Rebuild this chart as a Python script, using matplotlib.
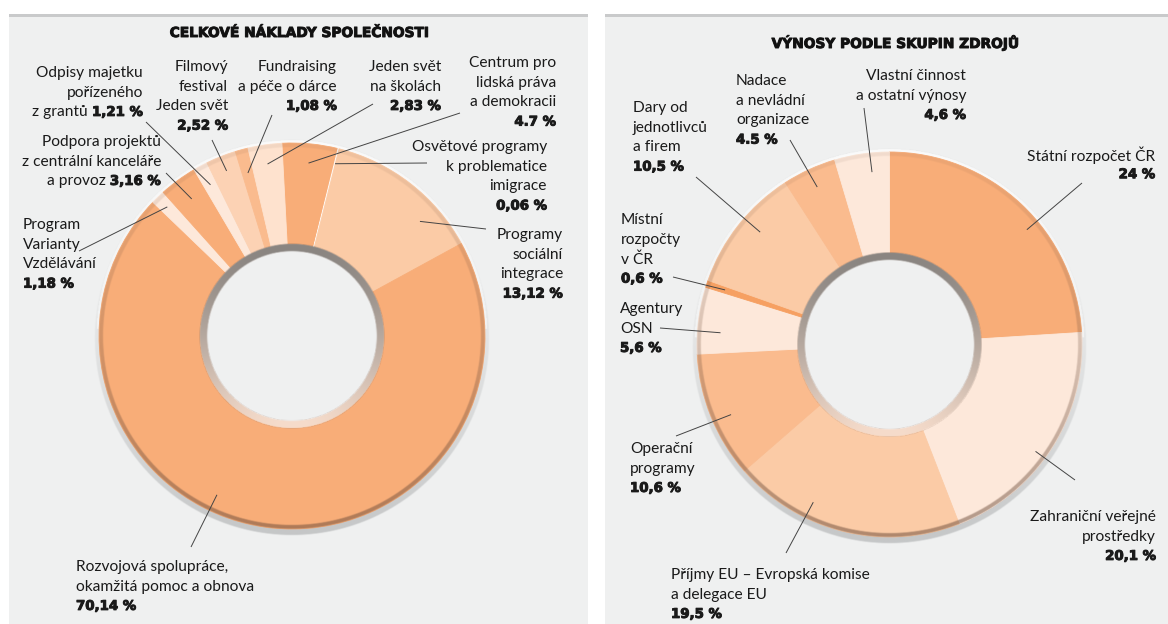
import matplotlib
matplotlib.use('Agg')
import matplotlib.pyplot as plt
from matplotlib.patches import Rectangle
import matplotlib.patheffects as pe
import numpy as np

plt.rcParams['font.family'] = ['Lato', 'DejaVu Sans']

W, H = 1168, 624

# ---------------- data ----------------
left_title = 'CELKOVÉ NÁKLADY SPOLEČNOSTI'
left_labels = [
    ['Centrum pro', 'lidská práva', 'a demokracii'],
    ['Osvětové programy', 'k problematice', 'imigrace'],
    ['Programy', 'sociální', 'integrace'],
    ['Rozvojová spolupráce,', 'okamžitá pomoc a obnova'],
    ['Program', 'Varianty', 'Vzdělávání'],
    ['Podpora projektů', 'z centrální kanceláře', 'a provoz'],
    ['Odpisy majetku', 'pořízeného', 'z grantů'],
    ['Filmový', 'festival', 'Jeden svět'],
    ['Fundraising', 'a péče o dárce'],
    ['Jeden svět', 'na školách'],
]
left_values = [4.7, 0.06, 13.12, 70.14, 1.18, 3.16, 1.21, 2.52, 1.08, 2.83]
left_value_text = ['4.7 %', '0,06 %', '13,12 %', '70,14 %', '1,18 %',
                   '3,16 %', '1,21 %', '2,52 %', '1,08 %', '2,83 %']

right_title = 'VÝNOSY PODLE SKUPIN ZDROJŮ'
right_labels = [
    ['Státní rozpočet ČR'],
    ['Zahraniční veřejné', 'prostředky'],
    ['Příjmy EU – Evropská komise', 'a delegace EU'],
    ['Operační', 'programy'],
    ['Agentury', 'OSN'],
    ['Místní', 'rozpočty', 'v ČR'],
    ['Dary od', 'jednotlivců', 'a firem'],
    ['Nadace', 'a nevládní', 'organizace'],
    ['Vlastní činnost', 'a ostatní výnosy'],
]
right_values = [24, 20.1, 19.5, 10.6, 5.6, 0.6, 10.5, 4.5, 4.6]
right_value_text = ['24 %', '20,1 %', '19,5 %', '10,6 %', '5,6 %',
                    '0,6 %', '10,5 %', '4.5 %', '4,6 %']

# ---------------- styles ----------------
ORANGE = '#f8ad78'
MED = '#fabb8e'
PEACH = '#fbcba6'
LIGHT = '#fde8da'
left_colors = [ORANGE, '#fff4ec', PEACH, ORANGE, LIGHT, ORANGE, LIGHT,
               '#fcd2b4', MED, '#fee2ce']
right_colors = [ORANGE, LIGHT, PEACH, MED, LIGHT, '#f6a062', PEACH, MED, LIGHT]

# layout: x, y of first line, alignment, value inline?, frac in wedge, radius, leader start
left_layout = [
    (556, 63, 'right', False, 0.5, 0.90, (460, 113)),
    (547, 147, 'right', False, 0.5, 0.92, (427, 163)),
    (563, 235, 'right', False, 0.72, 0.89, (486, 229)),
    (76, 567, 'left', False, 0.57, 0.91, (191, 547)),
    (23, 225, 'left', False, 0.5, 0.93, (79, 251)),
    (161, 142, 'right', True, 0.5, 0.88, (166, 173)),
    (143, 73, 'right', True, 0.5, 0.89, (146, 122)),
    (228, 67, 'right', False, 0.5, 0.92, (212, 140)),
    (337, 67, 'right', False, 0.5, 0.875, (272, 115)),
    (441, 67, 'right', False, 0.5, 0.90, (373, 104)),
]
right_layout = [
    (1155, 155, 'right', False, 0.58, 0.93, (1082, 183)),
    (1156, 517, 'right', False, 0.55, 0.94, (1075, 480)),
    (671, 575, 'left', False, 0.67, 0.91, (786, 553)),
    (630, 449, 'left', False, 0.45, 0.90, (676, 436)),
    (620, 309, 'left', False, 0.34, 0.88, (660, 328)),
    (621, 220, 'left', False, 0.5, 0.90, (673, 277)),
    (633, 108, 'left', False, 0.57, 0.89, (696, 177)),
    (736, 81, 'left', False, 0.5, 0.90, (790, 140)),
    (966, 76, 'right', False, 0.65, 0.90, (864, 108)),
]

FS = 11.2
BOLDEN = [pe.withStroke(linewidth=0.7, foreground='#1a1a1a')]
VAL_FONT = dict(family=['DejaVu Sans'], fontsize=9.6, fontweight='bold',
                path_effects=BOLDEN)
TXT_FONT = dict(family=['Lato', 'DejaVu Sans'], fontsize=FS, fontweight='normal')
LINE = 19.7
LINE_COLOR = '#444444'

fig = plt.figure(figsize=(W / 100, H / 100), dpi=100)
fig.patch.set_facecolor('white')

# panels
for x0, x1 in [(9, 588), (605, 1168)]:
    fig.add_artist(Rectangle((x0 / W, 0), (x1 - x0) / W, (H - 14) / H,
                             transform=fig.transFigure, facecolor='#eff0f0',
                             edgecolor='none', zorder=-2))
    fig.add_artist(Rectangle((x0 / W, (H - 17) / H), (x1 - x0) / W, 3.5 / H,
                             transform=fig.transFigure, facecolor='#c9cacb',
                             edgecolor='none', zorder=-1))

overlay = fig.add_axes([0, 0, 1, 1], zorder=5)
overlay.set_xlim(0, W)
overlay.set_ylim(H, 0)
overlay.axis('off')
overlay.patch.set_visible(False)

renderer = fig.canvas.get_renderer()


def ring_mask(r, r0, r1, d):
    return np.clip((r - r0) / d + 0.5, 0, 1) * np.clip((r1 - r) / d + 0.5, 0, 1)


def rgb(c):
    return np.array(matplotlib.colors.to_rgb(c))


def donut(cx, cy, R, values, colors, startangle):
    ext = 1.3
    ax = fig.add_axes([(cx - ext * R) / W, (H - cy - ext * R) / H,
                       2 * ext * R / W, 2 * ext * R / H], zorder=1)
    N = 700
    g = np.linspace(-ext, ext, N)
    X, Y = np.meshgrid(g, g)
    d = 1.2 / R
    r = np.hypot(X, Y)
    t = (1 - np.sin(np.arctan2(Y, X))) / 2          # 0 at top, 1 at bottom

    # shadow (below) + light halo on top
    rs = np.hypot(X, Y + 0.01)
    img0 = np.zeros((N, N, 4))
    sh = ring_mask(rs, 0.98, 1.022, d) * 0.7 * t ** 1.8
    halo = ring_mask(r, 0.995, 1.016, d) * 0.7 * (1 - t) ** 2
    img0[..., :3] = rgb('#b3b5b6')
    img0[..., 3] = sh
    wh = halo > sh
    img0[wh, :3] = 1.0
    img0[wh, 3] = halo[wh]
    ax.imshow(img0, extent=(-ext, ext, -ext, ext), origin='lower',
              interpolation='bilinear', zorder=0, aspect='auto')

    wedges, _ = ax.pie(values, colors=colors, startangle=startangle,
                       counterclock=False, radius=1,
                       wedgeprops=dict(width=0.525, linewidth=0.6))
    for w, c in zip(wedges, colors):
        w.set_edgecolor(c)
        w.set_zorder(1)

    # outer dark rim + inner bevel
    img1 = np.zeros((N, N, 4))
    rim = ring_mask(r, 0.98, 1.0, d) * (0.08 + 0.45 * t ** 1.3)
    img1[..., :3] = rgb('#6e4e3c')
    img1[..., 3] = rim
    bev = ring_mask(r, 0.44, 0.478, d)
    tb = t[..., None] ** 1.3
    bev_col = rgb('#8a8581') * (1 - tb) + rgb('#f6dccb') * tb
    inb = bev > 0
    img1[inb, :3] = bev_col[inb]
    img1[inb, 3] = np.maximum(bev[inb], rim[inb])
    ax.imshow(img1, extent=(-ext, ext, -ext, ext), origin='lower',
              interpolation='bilinear', zorder=2, aspect='auto')

    ax.set_aspect('auto')
    ax.set_xlim(-ext, ext)
    ax.set_ylim(-ext, ext)
    ax.axis('off')
    return ax, wedges


def anchor(ax, wedge, frac, r):
    t1, t2 = wedge.theta1, wedge.theta2
    a = np.radians(t2 - frac * (t2 - t1))
    px, py = ax.transData.transform((r * np.cos(a), r * np.sin(a)))
    return px, H - py


def put_lines(x, y0, ha, lines):
    for i, segs in enumerate(lines):
        y = y0 + i * LINE
        order = segs[::-1] if ha == 'right' else segs
        cur = x
        for txt, kind in order:
            font = VAL_FONT if kind == 'v' else TXT_FONT
            t = overlay.text(cur, y, txt, ha=ha, va='center', color='#1a1a1a', **font)
            w = t.get_window_extent(renderer).width
            cur = cur - w - 4 if ha == 'right' else cur + w + 4


def label_chart(ax, wedges, labels, vtexts, layout):
    for w, lab, vt, (x, y0, ha, inline, frac, r, start) in zip(wedges, labels, vtexts, layout):
        lines = [[(s, 't')] for s in lab]
        if inline:
            lines[-1] = [(lab[-1], 't'), (vt, 'v')]
        else:
            lines.append([(vt, 'v')])
        put_lines(x, y0, ha, lines)
        ex, ey = anchor(ax, w, frac, r)
        overlay.plot([start[0], ex], [start[1], ey], color=LINE_COLOR, lw=0.7,
                     solid_capstyle='butt')


axL, wL = donut(292, 336, 193, left_values, left_colors, 93)
axR, wR = donut(889.5, 344.5, 192.5, right_values, right_colors, 90)
wL[1].set_linewidth(1.3)

label_chart(axL, wL, left_labels, left_value_text, left_layout)
label_chart(axR, wR, right_labels, right_value_text, right_layout)

overlay.text(299, 33, left_title, ha='center', va='center', family=['DejaVu Sans'],
             fontsize=9.9, fontweight='bold', color='#111111', path_effects=BOLDEN)
overlay.text(895, 43, right_title, ha='center', va='center', family=['DejaVu Sans'],
             fontsize=9.9, fontweight='bold', color='#111111', path_effects=BOLDEN)

fig.savefig('out.png', dpi=100)
